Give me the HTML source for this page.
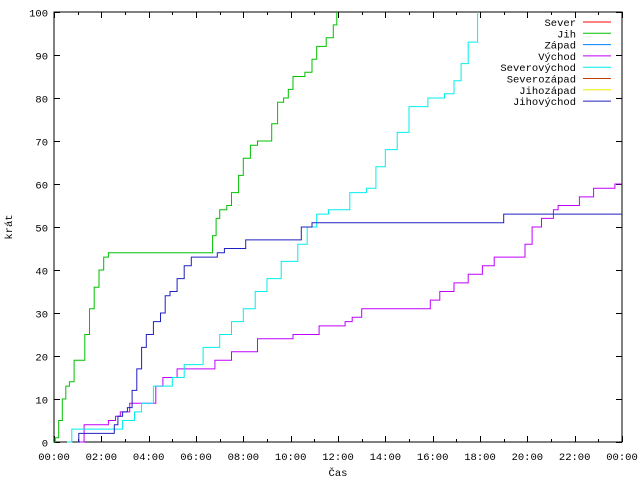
<!DOCTYPE html>
<html><head><meta charset="utf-8"><style>
body{margin:0;background:#fff}
svg{display:block;font-family:"Liberation Mono","DejaVu Sans Mono",monospace;font-size:10.5px}
</style></head><body>
<svg id="chart" width="640" height="480">
<rect x="0" y="0" width="640" height="480" fill="#fff"/>
<g id="grid"></g>
<g id="series"></g>
<g id="legend"></g>
<text x="12" y="227" transform="rotate(-90 12 227)" text-anchor="middle">krát</text>
<text x="338" y="476" text-anchor="middle">Čas</text>
</svg>
<script>
const yTicks=[0,10,20,30,40,50,60,70,80,90,100];
const xTickLabels=["00:00","02:00","04:00","06:00","08:00","10:00","12:00","14:00","16:00","18:00","20:00","22:00","00:00"];
const seriesNames=["Sever","Jih","Západ","Východ","Severovýchod","Severozápad","Jihozápad","Jihovýchod"];
const seriesColors=["#ff0000","#00c000","#0080ff","#c000ff","#00eeee","#c04000","#eeee00","#2020c0"];
const jihHours=[0,0.05,0.2,0.35,0.5,0.65,0.85,1.1,1.3,1.5,1.7,1.9,2.1,2.3,6.6,6.7,6.85,7.0,7.3,7.5,7.8,8.0,8.3,8.6,9.2,9.45,9.7,9.9,10.1,10.6,10.9,11.1,11.5,11.8,11.95];
const jihValues=[0,1,5,10,13,14,19,19,25,31,36,40,43,44,44,48,52,54,55,58,62,66,69,70,74,79,80,82,85,86,89,92,94,97,100];
const jvHours=[1.0,1.05,2.5,2.55,2.7,2.9,3.1,3.3,3.5,3.7,3.9,4.2,4.5,4.7,4.9,5.2,5.5,5.8,6.9,7.2,8.1,10.3,10.45,10.9,19.0,24];
const jvValues=[0,2,2,4,6,7,8,12,17,22,25,28,30,34,35,38,41,43,44,45,47,47,50,51,53,53];
const svHours=[0.55,0.75,2.9,3.4,3.7,4.2,5.0,5.5,6.3,7.0,7.5,8.0,8.5,9.0,9.6,10.3,10.7,11.1,11.6,12.5,13.2,13.6,14.0,14.5,15.0,15.8,16.5,16.9,17.2,17.5,17.9];
const svValues=[0,3,5,7,9,13,15,18,22,25,28,31,35,38,42,46,50,53,54,58,59,64,68,72,78,80,81,84,88,93,100];
const vyHours=[1.1,1.27,2.3,2.6,2.8,3.2,4.0,4.3,4.6,5.2,6.8,7.5,8.6,10.1,11.2,12.3,12.6,13.0,15.9,16.3,16.9,17.5,18.1,18.6,19.9,20.2,20.6,21.1,21.3,22.2,22.8,23.7,24];
const vyValues=[0,4,5,6,7,9,9,13,15,17,19,21,24,25,27,28,29,31,33,35,37,39,41,43,46,50,52,54,55,57,59,60,60];

const X0=54,X1=622,Y0=442,Y1=12;
const sx=h=>X0+(h/24)*(X1-X0);
const sy=v=>Y0-(v/100)*(Y0-Y1);
const NS="http://www.w3.org/2000/svg";
function mk(tag,attrs,parent){const e=document.createElementNS(NS,tag);for(const k in attrs)e.setAttribute(k,attrs[k]);parent.appendChild(e);return e;}
const grid=document.getElementById('grid');
const frame=mk('rect',{x:X0,y:Y1,width:X1-X0,height:Y0-Y1,fill:'none',stroke:'#000','stroke-width':1},grid);


yTicks.forEach(v=>{
  const y=Math.round(sy(v))+0.5;
  const t=mk('path',{d:`M${X0} ${y}h6M${X1} ${y}h-6`,stroke:'#000'},grid);
  
  
  const l=mk('text',{x:X0-6,y:y+4,'text-anchor':'end'},grid);l.textContent=v;
  
  
});
for(let h=0;h<=24;h++){
  const x=Math.round(sx(h))+0.5;
  const len=h%2===0?6:3;
  const t=mk('path',{d:`M${x} ${Y0}v-${len}M${x} ${Y1}v${len}`,stroke:'#000'},grid);
  
  
}
xTickLabels.forEach((s,i)=>{
  const l=mk('text',{x:sx(i*2),y:Y0+18,'text-anchor':'middle'},grid);l.textContent=s;
  
  
});
const ser=document.getElementById('series');
function stepLine(hs,vs,color,name){
  let d=`M${sx(hs[0]).toFixed(1)} ${sy(vs[0]).toFixed(1)}`;
  for(let i=1;i<hs.length;i++){d+=`H${sx(hs[i]).toFixed(1)}V${sy(vs[i]).toFixed(1)}`;}
  const p=mk('path',{d:d,fill:'none',stroke:color,'stroke-width':1},ser);
  
  
}
stepLine(vyHours,vyValues,seriesColors[3],'line-vychod');
stepLine(svHours,svValues,seriesColors[4],'line-severovychod');
stepLine(jvHours,jvValues,seriesColors[7],'line-jihovychod');
stepLine(jihHours,jihValues,seriesColors[1],'line-jih');
const lg=document.getElementById('legend');
seriesNames.forEach((n,i)=>{
  const y=22+i*11.3;
  const g=mk('g',{},lg);
  
  
  const t=mk('text',{x:576,y:y+4,'text-anchor':'end'},g);t.textContent=n;
  mk('line',{x1:583,x2:611,y1:y,y2:y,stroke:seriesColors[i]},g);
});
</script>
</body></html>
